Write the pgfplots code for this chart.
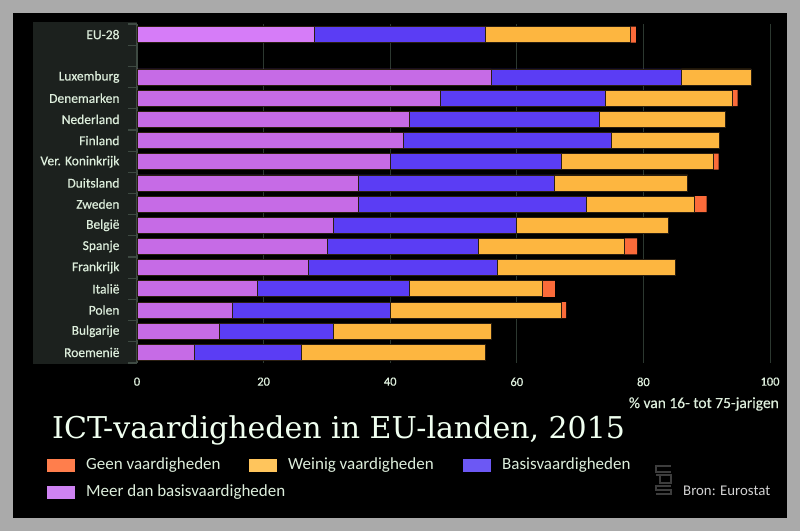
\documentclass[border=0pt]{standalone}
\usepackage{pgfplots}
\pgfplotsset{compat=1.18}
\usepackage{pgfplotstable}
\usepackage{fontspec}
\setmainfont{Carlito}
\newfontfamily\titlefont{DejaVu Serif}
\definecolor{cborder}{HTML}{AAAAAA}
\definecolor{cpanel}{HTML}{1C211E}
\definecolor{caxis}{HTML}{3E4A42}
\definecolor{cgrid}{HTML}{2C3830}
\definecolor{clabel}{HTML}{DDEEDC}
\definecolor{cmeer}{HTML}{C66BE6}
\definecolor{cmeereu}{HTML}{D67CF8}
\definecolor{cbasis}{HTML}{5B3DF4}
\definecolor{cweinig}{HTML}{FDB640}
\definecolor{cgeen}{HTML}{FB6B3A}
\definecolor{cedge}{HTML}{2A1E10}
\definecolor{lgeen}{HTML}{FF7E4C}
\definecolor{lweinig}{HTML}{FFC55C}
\definecolor{lbasis}{HTML}{6C58F4}
\definecolor{lmeer}{HTML}{CE82F2}

\pgfplotstableread{
y meer basis weinig geen
15 28 27 23 0.8
13 56 30 11 0
12 48 26 20 0.9
11 43 30 20 0
10 42 33 17 0
9 40 27 24 0.9
8 35 31 21 0
7 35 36 17 2
6 31 29 24 0
5 30 24 23 2
4 27 30 28 0
3 19 24 21 2
2 15 25 27 0.8
1 13 18 25 0
0 9 17 29 0
}\datatable

\begin{document}
\begin{tikzpicture}[x=1pt,y=1pt]
\fill[cborder] (0,0) rectangle (800,531);
\fill[black] (13,13) rectangle (787,518);
\fill[cpanel] (33,167) rectangle (137,509);
\begin{axis}[
  at={(137pt,168pt)}, anchor=south west,
  scale only axis, width=633pt, height=339pt,
  xmin=0, xmax=100, ymin=-0.5, ymax=15.5,
  xbar stacked, bar width=16pt,
  axis lines*=left,
  x axis line style={draw=none},
  y axis line style={draw=caxis, line width=1.4pt},
  xtick={0,20,...,100},
  ytick={0,1,2,3,4,5,6,7,8,9,10,11,12,13,15},
  yticklabels={Roemenië,Bulgarije,Polen,Italië,Frankrijk,Spanje,België,Zweden,Duitsland,Ver. Koninkrijk,Finland,Nederland,Denemarken,Luxemburg,EU-28},
  minor ytick={-0.5,0.5,...,15.5},
  tick align=outside,
  major tick length=0pt, minor tick length=9pt,
  minor tick style={draw=caxis, line width=1.2pt},
  xmajorgrids, grid style={draw=cgrid, line width=0.9pt},
  /pgf/number format/assume math mode=true,
  yticklabel style={font=\fontsize{13.5}{15}\selectfont\addfontfeature{FakeBold=0.4}, text=clabel, xshift=-14pt},
  xticklabel style={font=\fontsize{12.5}{14}\selectfont\addfontfeature{FakeBold=0.4}, text=clabel, yshift=-11pt},
  every axis plot/.append style={draw=cedge, line width=0.7pt},
]
\addplot[fill=cmeer] table[x=meer,y=y]{\datatable};
\addplot[fill=cbasis] table[x=basis,y=y]{\datatable};
\addplot[fill=cweinig] table[x=weinig,y=y]{\datatable};
\addplot[fill=cgeen, draw=none] table[x=geen,y=y]{\datatable};
\end{axis}
\begin{axis}[
  at={(137pt,168pt)}, anchor=south west,
  scale only axis, width=633pt, height=339pt,
  xmin=0, xmax=100, ymin=-0.5, ymax=15.5,
  hide axis, xbar, bar width=16pt,
]
\addplot[fill=cmeereu, draw=cedge, line width=0.7pt] coordinates {(28,15)};
\end{axis}
\node[anchor=east, text=clabel, font=\fontsize{15.5}{17}\selectfont\addfontfeature{FakeBold=0.3}, inner sep=0pt] at (779,127) {\% van 16- tot 75-jarigen};
\node[anchor=west, text=white!94!green, font=\titlefont\fontsize{30}{33}\selectfont, inner sep=0pt] at (52,101) {ICT-vaardigheden in EU-landen, 2015};
% legend
\fill[lgeen] (47,59) rectangle (75,72);
\node[anchor=west, text=clabel, font=\fontsize{17}{19}\selectfont, inner sep=0pt] at (86,66) {Geen vaardigheden};
\fill[lweinig] (249,59) rectangle (277,72);
\node[anchor=west, text=clabel, font=\fontsize{17}{19}\selectfont, inner sep=0pt] at (288,66) {Weinig vaardigheden};
\fill[lbasis] (463,59) rectangle (491,72);
\node[anchor=west, text=clabel, font=\fontsize{17}{19}\selectfont, inner sep=0pt] at (502,66) {Basisvaardigheden};
\fill[lmeer] (47,32) rectangle (75,45);
\node[anchor=west, text=clabel, font=\fontsize{17}{19}\selectfont, inner sep=0pt] at (86,39) {Meer dan basisvaardigheden};
% logo
\begin{scope}[draw=black!60!white, line width=1.6pt, draw opacity=0.6]
\draw (671,65) -- (656,65) -- (656,59) -- (671,59);
\draw (656,56) -- (671,56) -- (671,48) -- (660,48) -- (660,56);
\draw (671,45) -- (656,45) -- (656,41) -- (671,41) -- (671,37) -- (656,37);
\end{scope}
\node[anchor=west, text=white!82!black, font=\fontsize{14.8}{16}\selectfont, inner sep=0pt] at (683,40) {Bron: Eurostat};
\end{tikzpicture}
\end{document}
